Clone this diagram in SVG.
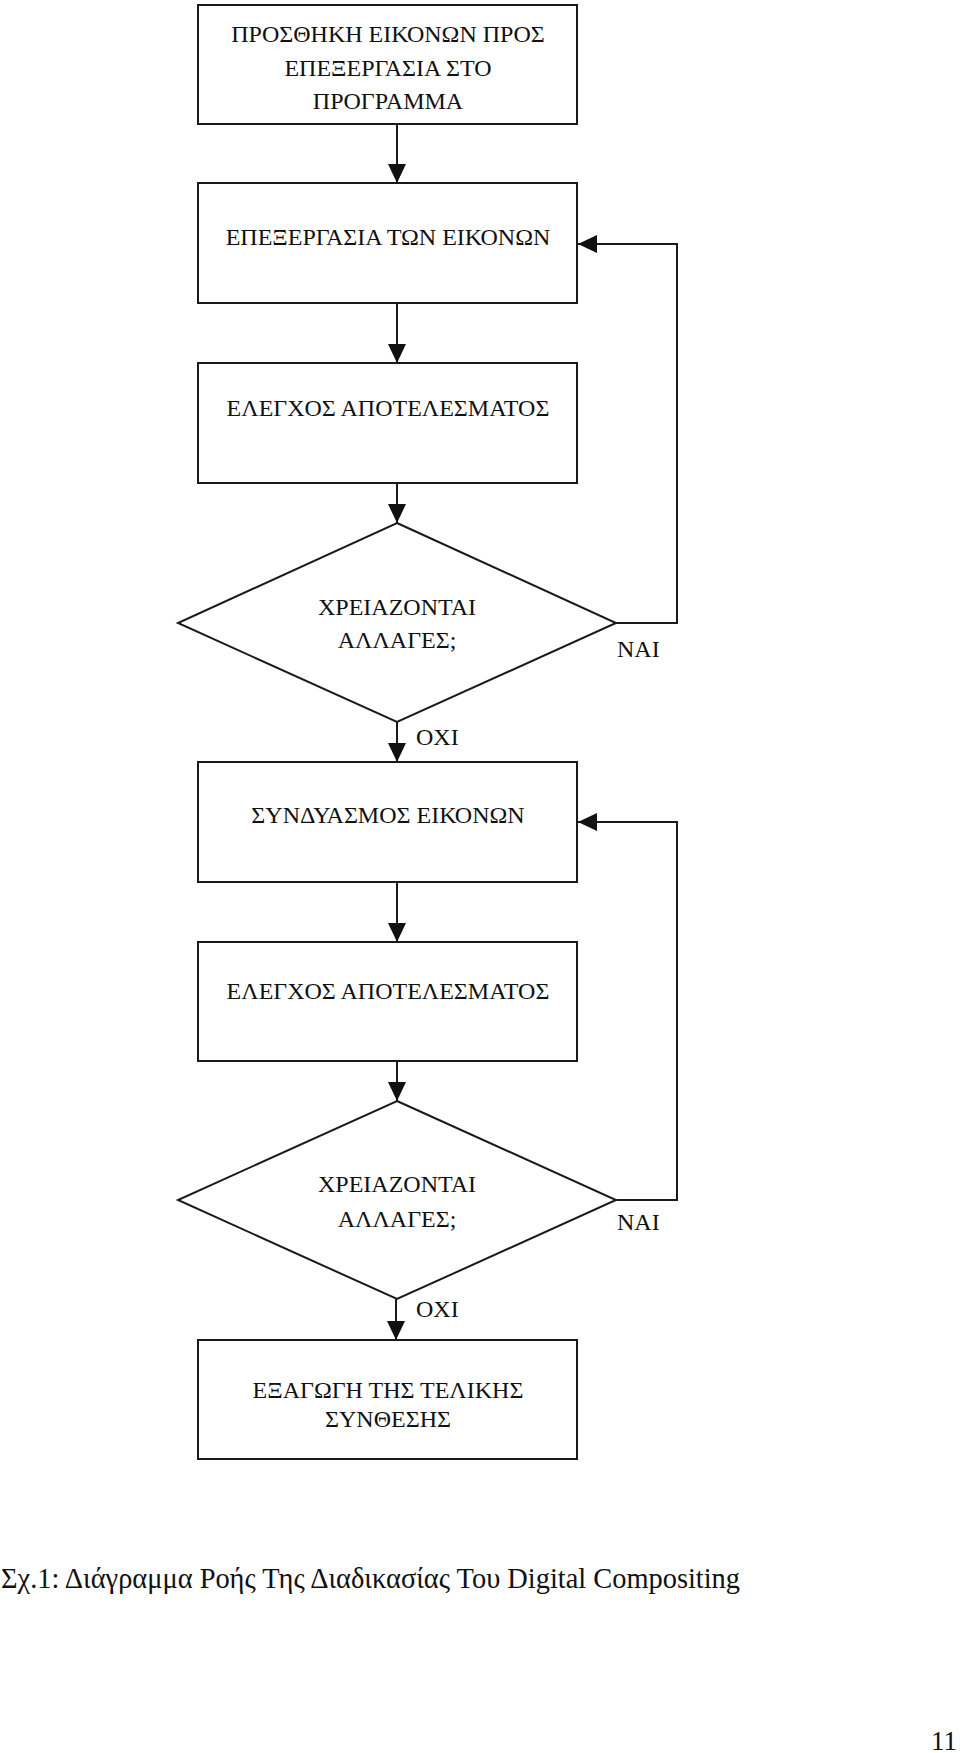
<svg xmlns="http://www.w3.org/2000/svg" width="960" height="1753" viewBox="0 0 960 1753">
<style>
.box{fill:#fff;stroke:#1a1a1a;stroke-width:2}
.ln{fill:none;stroke:#1a1a1a;stroke-width:2}
text{font-family:"Liberation Serif","Times New Roman",serif;fill:#111}
.t{font-size:24px;text-anchor:middle}
.lbl{font-size:24px}
</style>
<defs>
<marker id="ah" markerUnits="userSpaceOnUse" markerWidth="20" markerHeight="20" refX="19" refY="9" orient="auto">
<path d="M0,0 L19,9 L0,18 Z" fill="#111"/>
</marker>
</defs>
<rect width="960" height="1753" fill="#fff"/>
<g id="connectors">
<line class="ln" x1="397" y1="124" x2="397" y2="183" marker-end="url(#ah)"/>
<line class="ln" x1="397" y1="303" x2="397" y2="363" marker-end="url(#ah)"/>
<line class="ln" x1="397" y1="483" x2="397" y2="523" marker-end="url(#ah)"/>
<line class="ln" x1="397" y1="722" x2="397" y2="762" marker-end="url(#ah)"/>
<line class="ln" x1="397" y1="882" x2="397" y2="942" marker-end="url(#ah)"/>
<line class="ln" x1="397" y1="1061" x2="397" y2="1101" marker-end="url(#ah)"/>
<line class="ln" x1="396" y1="1299" x2="396" y2="1340" marker-end="url(#ah)"/>
<polyline class="ln" points="616,623 677,623 677,244 578,244" marker-end="url(#ah)"/>
<polyline class="ln" points="616,1200 677,1200 677,822 578,822" marker-end="url(#ah)"/>
<text class="lbl" x="617" y="657">ΝΑΙ</text>
<text class="lbl" x="416" y="745">ΟΧΙ</text>
<text class="lbl" x="617" y="1230">ΝΑΙ</text>
<text class="lbl" x="416" y="1317">ΟΧΙ</text>
</g>
<g id="n1">
<rect class="box" x="198" y="5" width="379" height="119"/>
<text class="t" x="388" y="42">ΠΡΟΣΘΗΚΗ ΕΙΚΟΝΩΝ ΠΡΟΣ</text>
<text class="t" x="388" y="76">ΕΠΕΞΕΡΓΑΣΙΑ ΣΤΟ</text>
<text class="t" x="388" y="109">ΠΡΟΓΡΑΜΜΑ</text>
</g>
<g id="n2">
<rect class="box" x="198" y="183" width="379" height="120"/>
<text class="t" x="388" y="245">ΕΠΕΞΕΡΓΑΣΙΑ ΤΩΝ ΕΙΚΟΝΩΝ</text>
</g>
<g id="n3">
<rect class="box" x="198" y="363" width="379" height="120"/>
<text class="t" x="388" y="416">ΕΛΕΓΧΟΣ ΑΠΟΤΕΛΕΣΜΑΤΟΣ</text>
</g>
<g id="d1">
<polygon class="box" points="397,523 616,623 397,722 178,623"/>
<text class="t" x="397" y="615">ΧΡΕΙΑΖΟΝΤΑΙ</text>
<text class="t" x="397" y="648">ΑΛΛΑΓΕΣ;</text>
</g>
<g id="n4">
<rect class="box" x="198" y="762" width="379" height="120"/>
<text class="t" x="388" y="823">ΣΥΝΔΥΑΣΜΟΣ ΕΙΚΟΝΩΝ</text>
</g>
<g id="n5">
<rect class="box" x="198" y="942" width="379" height="119"/>
<text class="t" x="388" y="999">ΕΛΕΓΧΟΣ ΑΠΟΤΕΛΕΣΜΑΤΟΣ</text>
</g>
<g id="d2">
<polygon class="box" points="397,1101 616,1200 397,1299 178,1200"/>
<text class="t" x="397" y="1192">ΧΡΕΙΑΖΟΝΤΑΙ</text>
<text class="t" x="397" y="1227">ΑΛΛΑΓΕΣ;</text>
</g>
<g id="n6">
<rect class="box" x="198" y="1340" width="379" height="119"/>
<text class="t" x="388" y="1398">ΕΞΑΓΩΓΗ ΤΗΣ ΤΕΛΙΚΗΣ</text>
<text class="t" x="388" y="1427">ΣΥΝΘΕΣΗΣ</text>
</g>
<g id="caption">
<text x="1" y="1588" font-size="29" textLength="739" lengthAdjust="spacingAndGlyphs">Σχ.1: Διάγραμμα Ροής Της Διαδικασίας Του Digital Compositing</text>
<text x="931" y="1750" font-size="27">11</text>
</g>
</svg>
